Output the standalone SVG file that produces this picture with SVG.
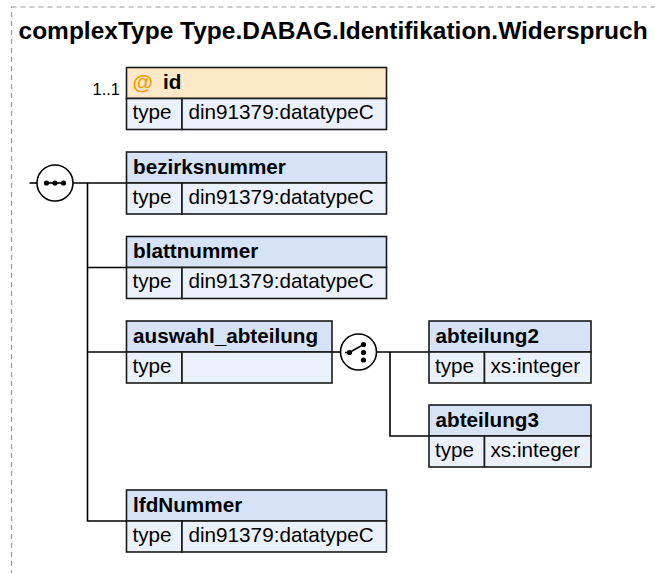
<svg xmlns="http://www.w3.org/2000/svg" width="655" height="573" viewBox="0 0 655 573">
<defs>
<style>
.frame{fill:none;stroke:#999;stroke-width:1.2;stroke-dasharray:5,4}
.title{font-family:"Liberation Sans",Arial,sans-serif;font-weight:bold;font-size:24.5px;fill:#000}
.hd{fill:#D6E3F7;stroke:#1a1a1a;stroke-width:1.6}
.hdA{fill:#FDE8C8;stroke:#1a1a1a;stroke-width:1.6}
.row{fill:#EAF1FB;stroke:#1a1a1a;stroke-width:1.6}
.name{font-family:"Liberation Sans",Arial,sans-serif;font-weight:bold;font-size:20.7px;fill:#000}
.txt{font-family:"Liberation Sans",Arial,sans-serif;font-size:20.7px;fill:#000}
.occ{font-family:"Liberation Sans",Arial,sans-serif;font-size:16.5px;fill:#000}
.at{font-family:"Liberation Sans",Arial,sans-serif;font-weight:bold;font-size:21px;fill:#F0A000}
.ln{fill:none;stroke:#000;stroke-width:1.6}
.comp{fill:#fff;stroke:#000;stroke-width:1.6}
.dot{fill:#000}
</style>
</defs>
<rect class="frame" x="11.5" y="7" width="700" height="700"/>
<text class="title" x="18.5" y="38.5">complexType Type.DABAG.Identifikation.Widerspruch</text>

<g id="connectors">
<line class="ln" x1="29.5" y1="183" x2="37" y2="183"/>
<line class="ln" x1="73" y1="183" x2="126.5" y2="183"/>
<polyline class="ln" points="87.5,183 87.5,521 126.5,521"/>
<line class="ln" x1="87.5" y1="267.5" x2="126.5" y2="267.5"/>
<line class="ln" x1="87.5" y1="352" x2="126.5" y2="352"/>
<line class="ln" x1="332" y1="352" x2="340.5" y2="352"/>
<line class="ln" x1="376.5" y1="352" x2="429" y2="352"/>
<polyline class="ln" points="390,352 390,436 429,436"/>
</g>

<g id="sequence">
<circle class="comp" cx="55" cy="183" r="18"/>
<line class="ln" x1="45" y1="183" x2="66" y2="183"/>
<circle class="dot" cx="46.5" cy="183" r="2.6"/>
<circle class="dot" cx="55" cy="183" r="2.6"/>
<circle class="dot" cx="63.5" cy="183" r="2.6"/>
</g>

<g id="choice">
<circle class="comp" cx="358.5" cy="352" r="18"/>
<polyline class="ln" points="345,352.5 349.5,352.5 363.5,344.5"/>
<circle class="dot" cx="349.5" cy="352.5" r="2.6"/>
<circle class="dot" cx="363.5" cy="344.5" r="2.6"/>
<circle class="dot" cx="363.5" cy="352.5" r="2.6"/>
<circle class="dot" cx="363.5" cy="360" r="2.6"/>
</g>

<g id="attr-id">
<text class="occ" x="120" y="94.5" text-anchor="end">1..1</text>
<rect class="hdA" x="126.5" y="67.5" width="260" height="31"/>
<rect class="row" x="126.5" y="98.5" width="55.5" height="31"/>
<rect class="row" x="182" y="98.5" width="204.5" height="31"/>
<text class="at" x="132.5" y="88.5">@</text>
<text class="name" x="163" y="88.5">id</text>
<text class="txt" x="132.5" y="119">type</text>
<text class="txt" x="188.5" y="119">din91379:datatypeC</text>
</g>

<g id="bezirksnummer">
<rect class="hd" x="126.5" y="152" width="260" height="31"/>
<rect class="row" x="126.5" y="183" width="55.5" height="31"/>
<rect class="row" x="182" y="183" width="204.5" height="31"/>
<text class="name" x="133" y="173.5">bezirksnummer</text>
<text class="txt" x="132.5" y="203.5">type</text>
<text class="txt" x="188.5" y="203.5">din91379:datatypeC</text>
</g>

<g id="blattnummer">
<rect class="hd" x="126.5" y="236.5" width="260" height="31"/>
<rect class="row" x="126.5" y="267.5" width="55.5" height="31"/>
<rect class="row" x="182" y="267.5" width="204.5" height="31"/>
<text class="name" x="133" y="258">blattnummer</text>
<text class="txt" x="132.5" y="288">type</text>
<text class="txt" x="188.5" y="288">din91379:datatypeC</text>
</g>

<g id="auswahl_abteilung">
<rect class="hd" x="126.5" y="321" width="205.5" height="31"/>
<rect class="row" x="126.5" y="352" width="55.5" height="31"/>
<rect class="row" x="182" y="352" width="150" height="31"/>
<text class="name" x="133" y="342.5">auswahl_abteilung</text>
<text class="txt" x="132.5" y="372.5">type</text>
</g>

<g id="abteilung2">
<rect class="hd" x="429" y="321" width="162" height="31"/>
<rect class="row" x="429" y="352" width="55.5" height="31"/>
<rect class="row" x="484.5" y="352" width="106.5" height="31"/>
<text class="name" x="435.5" y="342.5">abteilung2</text>
<text class="txt" x="435" y="372.5">type</text>
<text class="txt" x="490.5" y="372.5">xs:integer</text>
</g>

<g id="abteilung3">
<rect class="hd" x="429" y="405" width="162" height="31"/>
<rect class="row" x="429" y="436" width="55.5" height="31"/>
<rect class="row" x="484.5" y="436" width="106.5" height="31"/>
<text class="name" x="435.5" y="426.5">abteilung3</text>
<text class="txt" x="435" y="456.5">type</text>
<text class="txt" x="490.5" y="456.5">xs:integer</text>
</g>

<g id="lfdNummer">
<rect class="hd" x="126.5" y="490" width="260" height="31"/>
<rect class="row" x="126.5" y="521" width="55.5" height="31"/>
<rect class="row" x="182" y="521" width="204.5" height="31"/>
<text class="name" x="133" y="511.5">lfdNummer</text>
<text class="txt" x="132.5" y="541.5">type</text>
<text class="txt" x="188.5" y="541.5">din91379:datatypeC</text>
</g>
</svg>
